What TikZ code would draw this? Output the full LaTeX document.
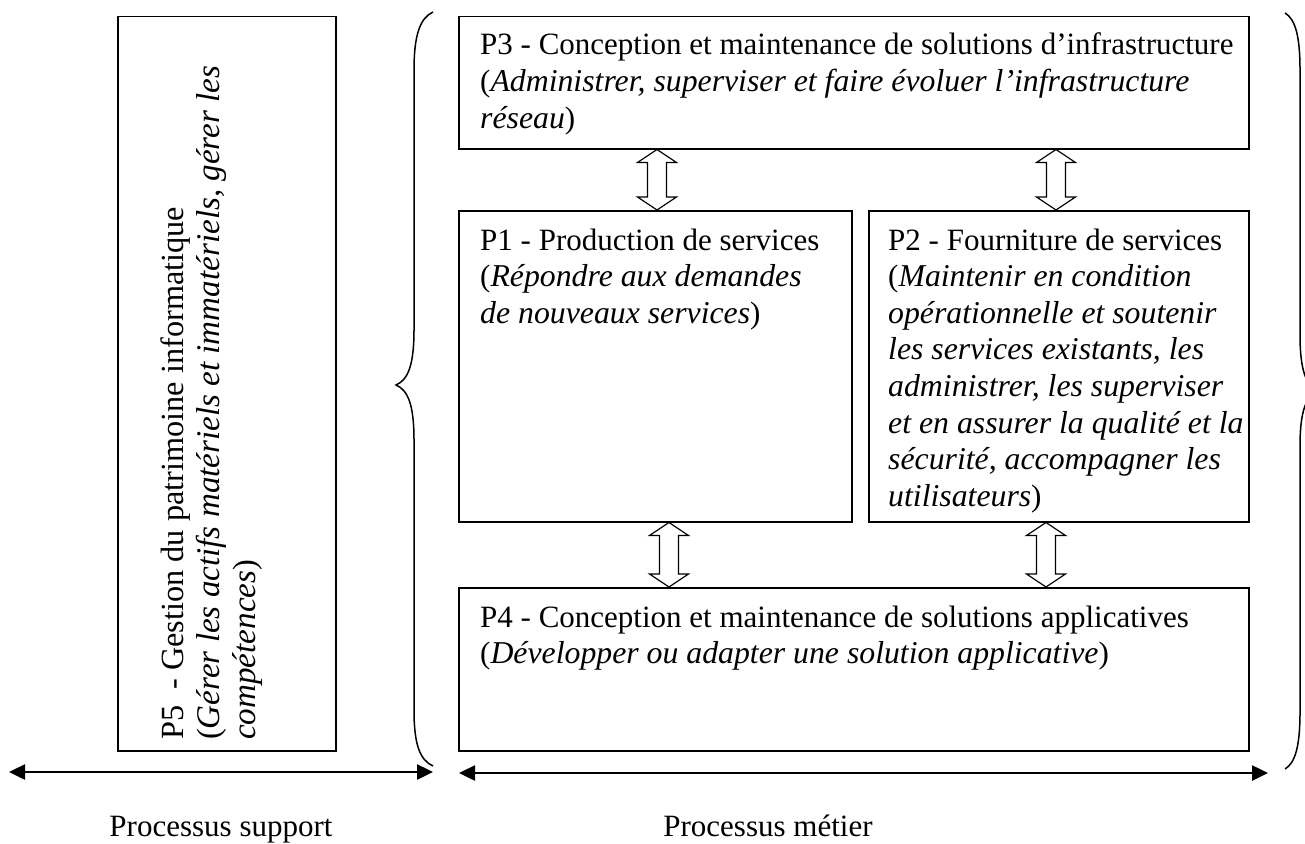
\documentclass[tikz,border=0pt]{standalone}
\usepackage{fontspec}
\setmainfont{Liberation Serif}[ItalicFeatures={Scale=1.025}]
\usetikzlibrary{arrows.meta,calc}
\newcommand\hollowdbl[2]{%
  \draw[hollow] (#1) -- ++(19.5,13) -- ++(-10,0) -- ($(#2)+(9.5,-13)$) -- ++(10,0) -- (#2)
    -- ++(-19.5,-13) -- ++(10,0) -- ($(#1)+(-9.5,13)$) -- ++(-10,0) -- cycle;}
\begin{document}
\begin{tikzpicture}[x=1pt,y=-1pt,
  box/.style={draw, line width=1.5pt, inner sep=0pt, anchor=north west},
  txt/.style={inner sep=0pt, anchor=base west, font=\fontsize{31}{36.6}\selectfont},
  lbl/.style={inner sep=0pt, anchor=base, font=\fontsize{31}{36.6}\selectfont},
  hollow/.style={draw, fill=white, line width=1.2pt, line join=miter},
  brace/.style={draw, line width=1.5pt},
  dblarrow/.style={line width=2.5pt, {Triangle[length=16pt,width=15pt]}-{Triangle[length=16pt,width=15pt]}}]
\useasboundingbox (0,0) rectangle (1305,843);
\clip (0,0) rectangle (1305,843);

% boxes
\node[box, minimum width=218pt, minimum height=734pt] (p5) at (117,16) {};
\node[box, minimum width=790pt, minimum height=132pt] (p3) at (458,16) {};
\node[box, minimum width=393pt, minimum height=311pt] (p1) at (458,210) {};
\node[box, minimum width=380pt, minimum height=311pt] (p2) at (868,210) {};
\node[box, minimum width=790pt, minimum height=163pt] (p4) at (458,587) {};

% texts
\node[txt] (t3) at (480,55) {\begin{tabular}[t]{@{}l@{}}
P3 - Conception et maintenance de solutions d’infrastructure\\
(\textit{Administrer, superviser et faire évoluer l’infrastructure}\\
\textit{réseau})\end{tabular}};
\node[txt] (t1) at (480,250) {\begin{tabular}[t]{@{}l@{}}
P1 - Production de services\\
(\textit{Répondre aux demandes}\\
\textit{de nouveaux services})\end{tabular}};
\node[txt] (t2) at (888,250) {\begin{tabular}[t]{@{}l@{}}
P2 - Fourniture de services\\
(\textit{Maintenir en condition}\\
\textit{opérationnelle et soutenir}\\
\textit{les services existants, les}\\
\textit{administrer, les superviser}\\
\textit{et en assurer la qualité et la}\\
\textit{sécurité, accompagner les}\\
\textit{utilisateurs})\end{tabular}};
\node[txt] (t4) at (480,627) {\begin{tabular}[t]{@{}l@{}}
P4 - Conception et maintenance de solutions applicatives\\
(\textit{Développer ou adapter une solution applicative})\end{tabular}};
\node[txt, rotate=90, font=\fontsize{32.3}{36.3}\selectfont] (t5) at (183,740) {\begin{tabular}[t]{@{}l@{}}
P5 \ - Gestion du patrimoine informatique\\
(\textit{Gérer les actifs matériels et immatériels, gérer les}\\
\textit{compétences})\end{tabular}};

% hollow double arrows
\coordinate (a1t) at ($(p3.south west)+(199,0)$);
\coordinate (a1b) at ($(p1.north west)+(199,0)$);
\coordinate (a2t) at ($(p3.south west)+(598,0)$);
\coordinate (a2b) at ($(p2.north west)+(188,0)$);
\coordinate (a3t) at ($(p1.south west)+(211,0)$);
\coordinate (a3b) at ($(p4.north west)+(211,0)$);
\coordinate (a4t) at ($(p2.south west)+(178,0)$);
\coordinate (a4b) at ($(p4.north west)+(588,0)$);
\hollowdbl{a1t}{a1b}
\hollowdbl{a2t}{a2b}
\hollowdbl{a3t}{a3b}
\hollowdbl{a4t}{a4b}

% braces
\draw[brace] (433,12) .. controls (420,18) and (414,35) .. (414,70) -- (414,330)
  .. controls (414,365) and (408,380) .. (396,385)
  .. controls (408,390) and (414,405) .. (414,440) -- (414,710)
  .. controls (414,745) and (420,760) .. (433,766);
\draw[brace] (1285,13) .. controls (1295,19) and (1300,35) .. (1300,70) -- (1300,335)
  .. controls (1300,370) and (1306,386) .. (1318,391)
  .. controls (1306,396) and (1300,411) .. (1300,446) -- (1300,712)
  .. controls (1300,747) and (1295,763) .. (1285,769);

% bottom arrows
\coordinate (sl) at (9,772);
\coordinate (sr) at (433,772);
\coordinate (ml) at (459,773);
\coordinate (mr) at (1268,773);
\draw[dblarrow] (sl) -- (sr);
\draw[dblarrow] (ml) -- (mr);

% labels
\node[lbl] (lsupport) at (221,836) {Processus support};
\node[lbl] (lmetier) at (768,836) {Processus métier};
\end{tikzpicture}
\end{document}
